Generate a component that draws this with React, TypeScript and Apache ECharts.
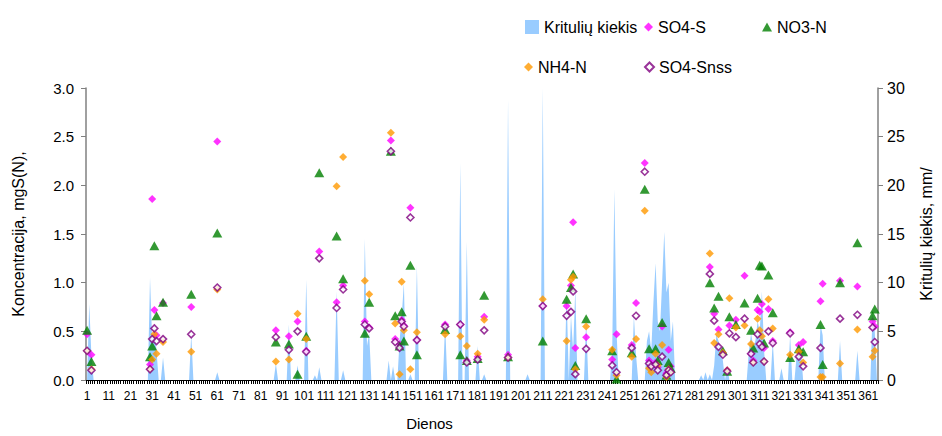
import React, { useEffect, useRef } from "react";
import * as echarts from "echarts";

// ---- data ----
const dayLabels: string[] = Array.from({ length: 365 }, (_, i) => String(i + 1));

// precipitation (mm/d) – non-zero days only
const rainDays = [2, 3, 30, 31, 32, 33, 36, 49, 61, 88, 94, 98, 102, 106, 108, 116, 119, 129, 130, 131, 140, 142, 145, 146, 147, 150, 153, 166, 173, 176, 181, 184, 195, 204, 211, 222, 224, 225, 226, 231, 243, 244, 245, 253, 254, 259, 260, 261, 262, 263, 264, 265, 266, 267, 268, 269, 270, 271, 284, 286, 288, 290, 291, 292, 293, 294, 296, 306, 307, 308, 309, 310, 311, 312, 313, 317, 321, 325, 328, 329, 330, 339, 340, 348, 356, 363, 364];
const rainMm = [7.8, 2.5, 10.5, 4, 5.5, 3, 2.3, 4.7, 0.8, 1.7, 5.7, 1.5, 10.3, 0.5, 1.3, 9.1, 1.0, 14.5, 3.5, 4.8, 2.0, 1.4, 4.0, 6.5, 10.0, 0.6, 11.7, 5.8, 22.3, 14.2, 3.5, 0.6, 28.8, 0.6, 30, 8.8, 6.6, 3.0, 9.4, 6.0, 3.0, 19.6, 5.0, 6.6, 2.5, 4, 5, 3, 8, 12, 6, 5, 10, 15.2, 9, 10, 4, 6, 0.5, 0.8, 0.6, 1.5, 4.7, 4.0, 3.0, 2.0, 1.5, 3, 4.8, 3.5, 4, 6, 5, 9.1, 3, 4.0, 1.2, 4.6, 2.5, 3.0, 3.0, 5.7, 4.6, 4.0, 3.0, 7.0, 5.0];

// sampling days and concentrations (mgS(N)/l)
const sampleDays = [1, 3, 30, 31, 32, 33, 36, 49, 61, 88, 94, 98, 102, 108, 116, 119, 129, 131, 141, 143, 145, 146, 147, 150, 153, 166, 173, 176, 181, 184, 195, 211, 222, 224, 225, 226, 231, 243, 245, 252, 254, 258, 260, 261, 263, 264, 266, 268, 269, 270, 288, 290, 292, 294, 296, 297, 300, 304, 307, 308, 310, 311, 312, 313, 315, 317, 325, 329, 331, 339, 340, 348, 356, 363, 364];
const so4s = [0.47, 0.26, 0.16, 1.86, 0.72, 0.46, 0.79, 0.75, 2.45, 0.51, 0.45, 0.60, 0.30, 1.32, 0.80, 0.97, 0.60, 0.54, 2.46, 0.42, 0.37, 0.62, 0.56, 1.77, 0.41, 0.57, 0.57, 0.20, 0.24, 0.65, 0.26, 0.76, 0.76, 0.97, 1.62, 0.33, 0.44, 0.21, 0.47, 0.36, 0.79, 2.23, 0.20, 0.16, 0.18, 0.13, 0.55, 0.07, 0.31, 0.14, 1.16, 0.68, 0.52, 0.28, 0.10, 0.56, 0.62, 1.07, 0.27, 0.20, 0.72, 0.70, 0.78, 0.33, 0.73, 0.40, 0.49, 0.36, 0.39, 0.81, 0.99, 1.02, 0.96, 0.60, 0.55];
const no3n = [0.51, 0.19, 0.24, 0.35, 1.38, 0.66, 0.80, 0.88, 1.51, 0.39, 0.37, 0.06, 0.45, 2.13, 1.48, 1.04, 0.48, 0.80, 2.35, 0.66, 0.35, 0.70, 0.40, 1.18, 0.26, 0.52, 0.26, 0.20, 0.22, 0.87, 0.24, 0.40, 0.83, 0.95, 1.09, 0.15, 0.63, 0.30, 0.01, 0.28, null, 1.96, 0.32, null, 0.32, 0.20, 0.59, 0.05, 0.18, 0.12, 1.00, 0.74, 0.86, 0.30, 0.09, 0.65, 0.57, 0.79, 0.51, 0.33, 0.84, 1.18, 1.17, 0.38, 1.08, 0.69, 0.23, 0.32, 0.29, 0.57, 0.16, 1.00, 1.41, 0.66, 0.73];
const nh4n = [0.30, 0.11, 0.11, 0.21, 0.47, 0.27, 0.39, 0.29, 0.93, 0.19, 0.21, 0.68, 0.42, null, 1.99, 2.29, 1.02, 0.88, 2.54, 0.58, 0.06, 1.01, 0.51, 0.11, 0.49, 0.47, 0.45, 0.35, 0.27, 0.62, 0.23, 0.83, 0.40, 1.03, 1.06, 0.11, 0.55, 0.31, 0.05, 0.24, 0.42, 1.74, 0.12, 0.08, 0.27, 0.15, 0.36, 0.03, 0.11, 0.08, 1.30, 0.38, 0.47, 0.28, 0.10, 0.84, 0.54, 0.56, 0.37, 0.18, 0.63, 0.51, 0.45, 0.19, 0.83, 0.53, 0.26, 0.29, 0.18, 0.03, 0.03, 0.17, 0.52, 0.24, 0.30];
const so4snss = [0.30, 0.10, 0.11, 0.42, 0.53, 0.40, 0.42, 0.47, 0.95, 0.44, 0.31, 0.50, 0.29, 1.25, 0.74, 0.93, 0.57, 0.53, 2.35, 0.39, 0.33, 0.60, 0.55, 1.67, 0.41, 0.55, 0.57, 0.18, 0.21, 0.51, 0.23, 0.76, 0.66, 0.70, 0.91, 0.06, 0.32, 0.15, 0.08, 0.33, 0.66, 2.14, 0.17, 0.14, 0.16, 0.10, 0.24, 0.05, 0.10, 0.08, 1.09, 0.61, 0.34, 0.26, 0.09, 0.48, 0.44, 0.63, 0.27, 0.18, 0.47, 0.37, 0.34, 0.19, 0.50, 0.38, 0.48, 0.24, 0.14, 0.33, null, 0.63, 0.67, 0.54, 0.39];

const FONT = "'Liberation Sans', Arial, sans-serif";

function pairs(values: (number | null)[]) {
  const out: [number, number][] = [];
  values.forEach((v, i) => {
    if (v !== null && v !== undefined) out.push([sampleDays[i] - 1, v]);
  });
  return out;
}

export default function App() {
  const ref = useRef<HTMLDivElement>(null);
  useEffect(() => {
    if (!ref.current) return;
    const chart = echarts.init(ref.current, undefined, { renderer: "svg" });
    const rain = dayLabels.map(() => 0);
    rainDays.forEach((d, i) => {
      rain[d - 1] = rainMm[i];
    });
    const legendText = { fontSize: 16, color: "#000", fontFamily: FONT };
    chart.setOption({
      animation: false,
      backgroundColor: "#fff",
      textStyle: { fontFamily: FONT },
      grid: { left: 86, right: 59, top: 88, bottom: 53 },
      legend: [
        { data: [{ name: "Kritulių kiekis", icon: "rect" }], left: 520, top: 14, itemWidth: 14, itemHeight: 14, textStyle: legendText, selectedMode: false },
        { data: ["SO4-S"], left: 639, top: 14, itemWidth: 9, itemHeight: 9, textStyle: legendText, selectedMode: false },
        { data: ["NO3-N"], left: 757, top: 14, itemWidth: 10, itemHeight: 9, textStyle: legendText, selectedMode: false },
        { data: ["NH4-N"], left: 519, top: 54, itemWidth: 9, itemHeight: 9, textStyle: legendText, selectedMode: false },
        { data: ["SO4-Snss"], left: 639, top: 54, itemWidth: 9, itemHeight: 9, textStyle: legendText, selectedMode: false },
      ],
      xAxis: {
        type: "category",
        data: dayLabels,
        boundaryGap: true,
        name: "Dienos",
        nameLocation: "middle",
        nameGap: 36,
        nameTextStyle: { fontSize: 15, color: "#000", padding: [0, 105, 0, 0] },
        axisLine: { lineStyle: { color: "#000", width: 1 } },
        axisTick: { show: true, interval: 0, length: 4, lineStyle: { color: "#000" } },
        axisLabel: { interval: 9, fontSize: 12, color: "#000", margin: 10 },
        splitLine: { show: false },
      },
      yAxis: [
        {
          type: "value",
          min: 0,
          max: 3,
          interval: 0.5,
          name: "Koncentracija, mgS(N),",
          nameLocation: "middle",
          nameRotate: 90,
          nameGap: 60,
          nameTextStyle: { fontSize: 16, color: "#000" },
          axisLine: { show: true, lineStyle: { color: "#808080", width: 1.5 } },
          axisTick: { show: true, length: 5, lineStyle: { color: "#808080" } },
          axisLabel: { fontSize: 15, color: "#000", margin: 12, formatter: (v: number) => v.toFixed(1) },
          splitLine: { show: false },
        },
        {
          type: "value",
          min: 0,
          max: 30,
          interval: 5,
          position: "right",
          name: "Kritulių kiekis, mm/",
          nameLocation: "middle",
          nameRotate: 90,
          nameGap: 40,
          nameTextStyle: { fontSize: 16, color: "#000" },
          axisLine: { show: true, lineStyle: { color: "#808080", width: 1.5 } },
          axisTick: { show: true, length: 5, lineStyle: { color: "#808080" } },
          axisLabel: { fontSize: 16, color: "#000", margin: 9 },
          splitLine: { show: false },
        },
      ],
      series: [
        {
          name: "Kritulių kiekis",
          type: "line",
          yAxisIndex: 1,
          data: rain,
          symbol: "none",
          lineStyle: { width: 0 },
          areaStyle: { color: "#99CCFF", opacity: 1 },
          itemStyle: { color: "#99CCFF" },
          z: 1,
        },
        {
          name: "SO4-S",
          type: "scatter",
          data: pairs(so4s),
          symbol: "diamond",
          symbolSize: 8,
          itemStyle: { color: "#FF00FF" },
          z: 2,
        },
        {
          name: "NO3-N",
          type: "scatter",
          data: pairs(no3n),
          symbol: "triangle",
          symbolSize: [10, 9],
          itemStyle: { color: "#008000" },
          z: 3,
        },
        {
          name: "NH4-N",
          type: "scatter",
          data: pairs(nh4n),
          symbol: "diamond",
          symbolSize: 8,
          itemStyle: { color: "#FF9900" },
          z: 4,
        },
        {
          name: "SO4-Snss",
          type: "scatter",
          data: pairs(so4snss),
          symbol: "diamond",
          symbolSize: 7,
          itemStyle: { color: "#FFFFFF", borderColor: "#800080", borderWidth: 1.6 },
          z: 5,
        },
      ],
    });
    return () => chart.dispose();
  }, []);
  return (
    <div
      ref={ref}
      style={{ position: "fixed", left: 0, top: 0, width: 942, height: 436, background: "#fff" }}
    />
  );
}
